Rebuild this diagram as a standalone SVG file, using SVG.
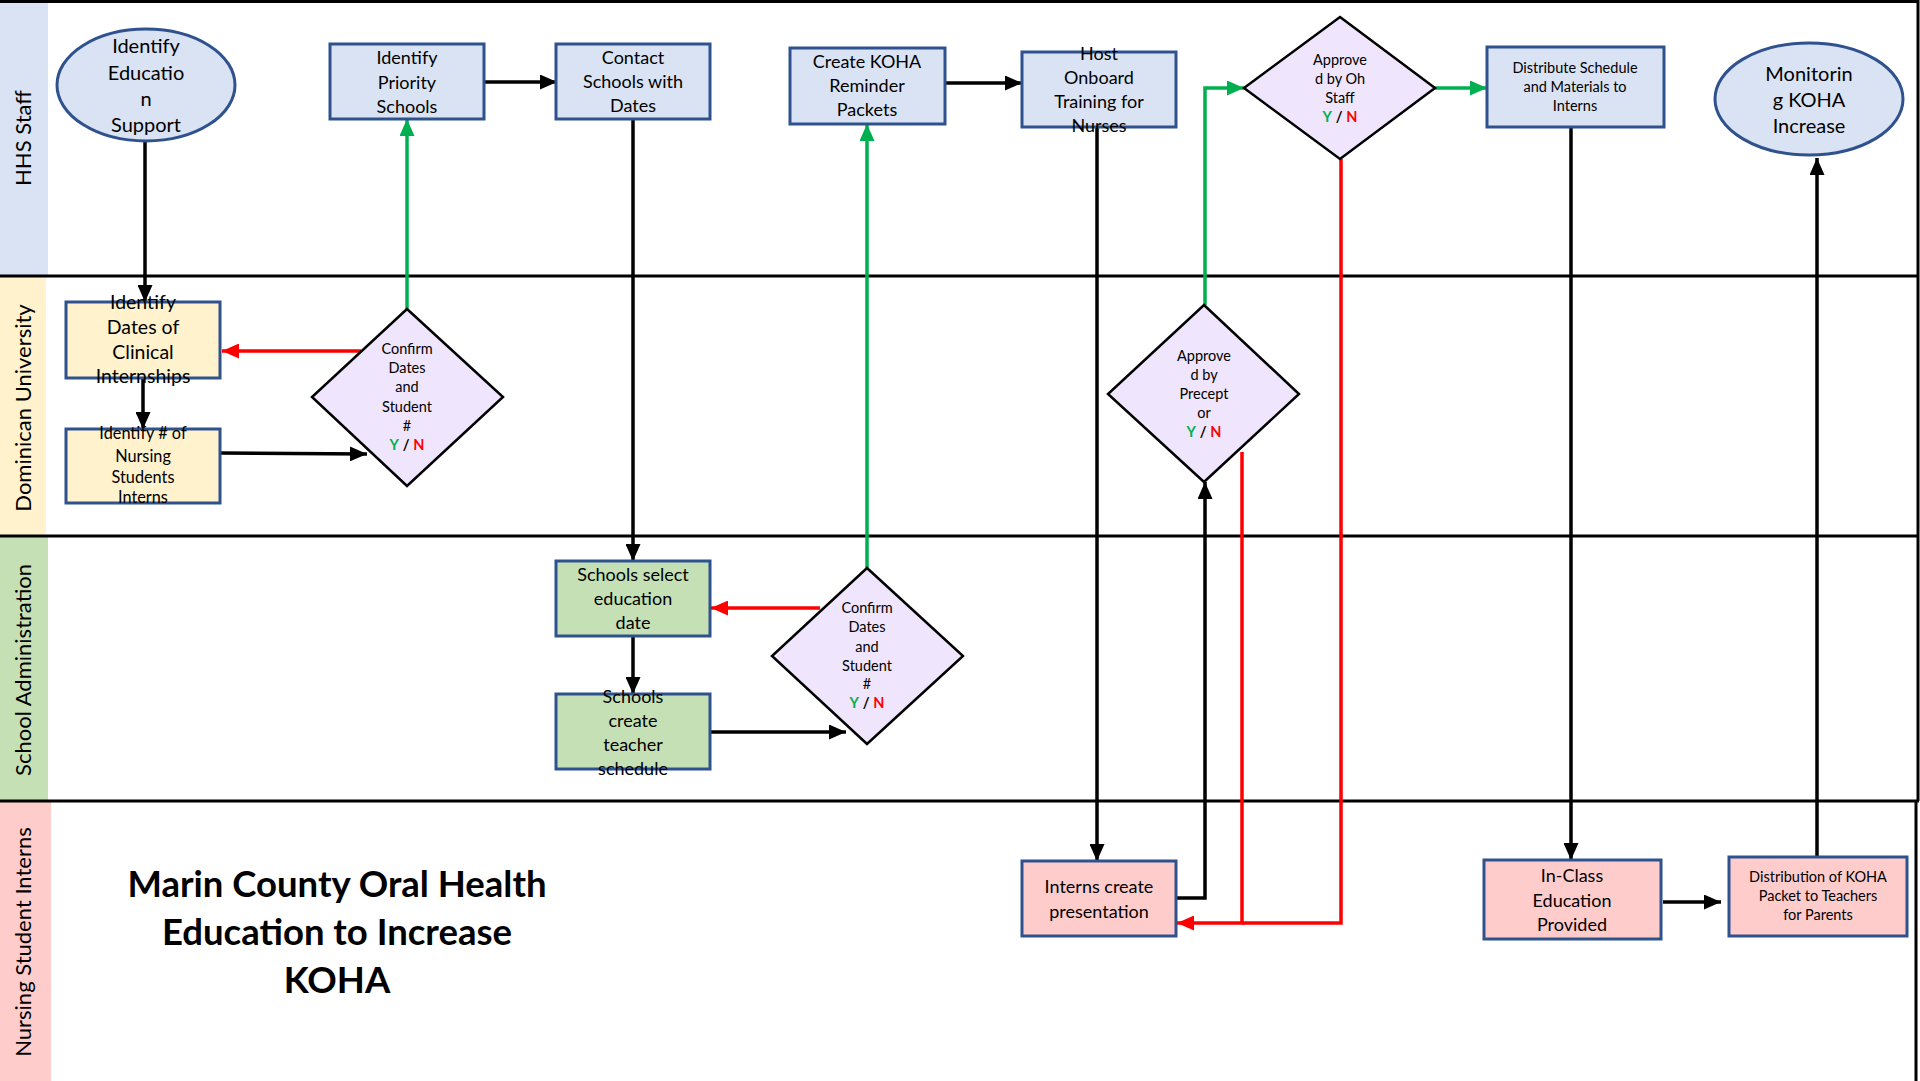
<svg xmlns="http://www.w3.org/2000/svg" width="1920" height="1081" viewBox="0 0 1920 1081">
<defs>
<style>
text{font-family:Lato,"Liberation Sans",sans-serif;fill:#000;text-anchor:middle}
.lane{font-size:22px}
.n{stroke:#2F528F;stroke-width:3}
.blue{fill:#DAE3F3}.yel{fill:#FFF2CC}.grn{fill:#C5E0B4}.pink{fill:#FFCCCC}
.dia{fill:#EFE5FD;stroke:#000;stroke-width:2.5}
.t18{font-size:18px}.t20{font-size:20px}.t14{font-size:14.5px}.t16{font-size:16.3px}.t19{font-size:19.5px}
.y{fill:#00B050;font-weight:bold}.r{fill:#FF0000;font-weight:bold}.sl{font-weight:bold}
.ck{fill:none;stroke:#000;stroke-width:3.5}
.cg{fill:none;stroke:#00B050;stroke-width:3.5}
.cr{fill:none;stroke:#FF0000;stroke-width:3.5}
.title{font-size:36.5px;font-weight:bold}
</style>
<marker id="ak" markerUnits="userSpaceOnUse" markerWidth="17" markerHeight="15" refX="17" refY="7.5" orient="auto"><path d="M0,0 L17,7.5 L0,15 z" fill="#000"/></marker>
<marker id="ag" markerUnits="userSpaceOnUse" markerWidth="17" markerHeight="15" refX="17" refY="7.5" orient="auto"><path d="M0,0 L17,7.5 L0,15 z" fill="#00B050"/></marker>
<marker id="ar" markerUnits="userSpaceOnUse" markerWidth="17" markerHeight="15" refX="17" refY="7.5" orient="auto"><path d="M0,0 L17,7.5 L0,15 z" fill="#FF0000"/></marker>
</defs>
<rect x="0" y="0" width="1920" height="1081" fill="#fff"/>
<g id="lanes">
<rect x="0" y="2" width="48" height="274" fill="#DAE3F3"/>
<rect x="0" y="276" width="46" height="260" fill="#FFF2CC"/>
<rect x="0" y="536" width="48" height="265" fill="#C5E0B4"/>
<rect x="0" y="801" width="51" height="280" fill="#FFCCCC"/>
<g stroke="#000" stroke-width="3" fill="none">
<line x1="0" y1="1.5" x2="1919" y2="1.5"/>
<line x1="1918" y1="0" x2="1918" y2="801"/>
<line x1="1916" y1="801" x2="1916" y2="1081"/>
<line x1="0" y1="276" x2="1919" y2="276"/>
<line x1="0" y1="536" x2="1919" y2="536"/>
<line x1="0" y1="801" x2="1919" y2="801"/>
</g>
<text class="lane" transform="translate(31,138) rotate(-90)">HHS Staff</text>
<text class="lane" transform="translate(31,408) rotate(-90)">Dominican University</text>
<text class="lane" transform="translate(31,670) rotate(-90)">School Administration</text>
<text class="lane" transform="translate(31,942) rotate(-90)">Nursing Student Interns</text>
</g>
<g id="connectors">
<path class="ck" d="M145,141 V302" marker-end="url(#ak)"/>
<path class="ck" d="M143,378 V429" marker-end="url(#ak)"/>
<path class="ck" d="M220,453 L367,454" marker-end="url(#ak)"/>
<path class="ck" d="M484,82 H557" marker-end="url(#ak)"/>
<path class="ck" d="M633,119 V561" marker-end="url(#ak)"/>
<path class="ck" d="M633,636 V694" marker-end="url(#ak)"/>
<path class="ck" d="M710,732 H846" marker-end="url(#ak)"/>
<path class="ck" d="M945,83 H1022" marker-end="url(#ak)"/>
<path class="ck" d="M1097,127 V861" marker-end="url(#ak)"/>
<path class="ck" d="M1176,898 H1205 V482" marker-end="url(#ak)"/>
<path class="ck" d="M1571,127 V860" marker-end="url(#ak)"/>
<path class="ck" d="M1663,902 H1721" marker-end="url(#ak)"/>
<path class="ck" d="M1817,857 V158" marker-end="url(#ak)"/>
<path class="cg" d="M407,309 V119" marker-end="url(#ag)"/>
<path class="cg" d="M867,568 V124" marker-end="url(#ag)"/>
<path class="cg" d="M1205,305 V88 H1244" marker-end="url(#ag)"/>
<path class="cg" d="M1435,88 H1487" marker-end="url(#ag)"/>
<path class="cr" d="M361,351 H222" marker-end="url(#ar)"/>
<path class="cr" d="M820,608 H711" marker-end="url(#ar)"/>
<path class="cr" d="M1341,159 V923 H1242"/>
<path class="cr" d="M1242,452 V923 H1177" marker-end="url(#ar)"/>
</g>
<g id="n-identify-education">
<ellipse cx="146" cy="85" rx="89" ry="56" class="n blue"/>
<text class="t20"><tspan x="146" y="53">Identify</tspan><tspan x="146" y="80">Educatio</tspan><tspan x="146" y="106">n</tspan><tspan x="146" y="132">Support</tspan></text>
</g>
<g id="n-identify-priority">
<rect x="330" y="44" width="154" height="75" class="n blue"/>
<text class="t18"><tspan x="407" y="64">Identify</tspan><tspan x="407" y="89">Priority</tspan><tspan x="407" y="113">Schools</tspan></text>
</g>
<g id="n-contact">
<rect x="556" y="44" width="154" height="75" class="n blue"/>
<text class="t18"><tspan x="633" y="64">Contact</tspan><tspan x="633" y="88">Schools with</tspan><tspan x="633" y="112">Dates</tspan></text>
</g>
<g id="n-create-koha">
<rect x="790" y="48" width="155" height="76" class="n blue"/>
<text class="t18"><tspan x="867" y="68">Create KOHA</tspan><tspan x="867" y="92">Reminder</tspan><tspan x="867" y="116">Packets</tspan></text>
</g>
<g id="n-host">
<rect x="1022" y="52" width="154" height="75" class="n blue"/>
<text class="t18"><tspan x="1099" y="60">Host</tspan><tspan x="1099" y="84">Onboard</tspan><tspan x="1099" y="108">Training for</tspan><tspan x="1099" y="132">Nurses</tspan></text>
</g>
<g id="n-approved-oh">
<polygon points="1340,17 1435,88 1340,159 1244,88" class="dia"/>
<text class="t14"><tspan x="1340" y="65">Approve</tspan><tspan x="1340" y="84">d by Oh</tspan><tspan x="1340" y="103">Staff</tspan><tspan x="1340" y="122"><tspan class="y">Y</tspan> <tspan class="sl">/</tspan> <tspan class="r">N</tspan></tspan></text>
</g>
<g id="n-distribute">
<rect x="1487" y="47" width="177" height="80" class="n blue"/>
<text class="t14"><tspan x="1575" y="73">Distribute Schedule</tspan><tspan x="1575" y="92">and Materials to</tspan><tspan x="1575" y="111">Interns</tspan></text>
</g>
<g id="n-monitoring">
<ellipse cx="1809" cy="99" rx="94" ry="56" class="n blue"/>
<text class="t20"><tspan x="1809" y="81">Monitorin</tspan><tspan x="1809" y="107">g KOHA</tspan><tspan x="1809" y="133">Increase</tspan></text>
</g>
<g id="n-identify-dates">
<rect x="66" y="302" width="154" height="76" class="n yel"/>
<text class="t19"><tspan x="143" y="309">Identify</tspan><tspan x="143" y="334">Dates of</tspan><tspan x="143" y="359">Clinical</tspan><tspan x="143" y="383">Internships</tspan></text>
</g>
<g id="n-identify-number">
<rect x="66" y="429" width="154" height="74" class="n yel"/>
<text class="t16"><tspan x="143" y="439">Identify # of</tspan><tspan x="143" y="462">Nursing</tspan><tspan x="143" y="483">Students</tspan><tspan x="143" y="503">Interns</tspan></text>
</g>
<g id="n-confirm-du">
<polygon points="407,309 503,397 407,486 312,397" class="dia"/>
<text class="t14"><tspan x="407" y="354">Confirm</tspan><tspan x="407" y="373">Dates</tspan><tspan x="407" y="392">and</tspan><tspan x="407" y="412">Student</tspan><tspan x="407" y="431">#</tspan><tspan x="407" y="450"><tspan class="y">Y</tspan> <tspan class="sl">/</tspan> <tspan class="r">N</tspan></tspan></text>
</g>
<g id="n-approved-preceptor">
<polygon points="1204,305 1299,394 1204,482 1108,394" class="dia"/>
<text class="t14"><tspan x="1204" y="361">Approve</tspan><tspan x="1204" y="380">d by</tspan><tspan x="1204" y="399">Precept</tspan><tspan x="1204" y="418">or</tspan><tspan x="1204" y="437"><tspan class="y">Y</tspan> <tspan class="sl">/</tspan> <tspan class="r">N</tspan></tspan></text>
</g>
<g id="n-schools-select">
<rect x="556" y="561" width="154" height="75" class="n grn"/>
<text class="t18"><tspan x="633" y="581">Schools select</tspan><tspan x="633" y="605">education</tspan><tspan x="633" y="629">date</tspan></text>
</g>
<g id="n-schools-create">
<rect x="556" y="694" width="154" height="75" class="n grn"/>
<text class="t18"><tspan x="633" y="703">Schools</tspan><tspan x="633" y="727">create</tspan><tspan x="633" y="751">teacher</tspan><tspan x="633" y="775">schedule</tspan></text>
</g>
<g id="n-confirm-sa">
<polygon points="867,568 963,656 867,744 772,656" class="dia"/>
<text class="t14"><tspan x="867" y="613">Confirm</tspan><tspan x="867" y="632">Dates</tspan><tspan x="867" y="652">and</tspan><tspan x="867" y="671">Student</tspan><tspan x="867" y="689">#</tspan><tspan x="867" y="708"><tspan class="y">Y</tspan> <tspan class="sl">/</tspan> <tspan class="r">N</tspan></tspan></text>
</g>
<g id="n-interns-create">
<rect x="1022" y="861" width="154" height="75" class="n pink"/>
<text class="t18"><tspan x="1099" y="893">Interns create</tspan><tspan x="1099" y="918">presentation</tspan></text>
</g>
<g id="n-inclass">
<rect x="1484" y="860" width="177" height="79" class="n pink"/>
<text class="t18"><tspan x="1572" y="882">In-Class</tspan><tspan x="1572" y="907">Education</tspan><tspan x="1572" y="931">Provided</tspan></text>
</g>
<g id="n-distribution">
<rect x="1729" y="857" width="178" height="79" class="n pink"/>
<text class="t14"><tspan x="1818" y="882">Distribution of KOHA</tspan><tspan x="1818" y="901">Packet to Teachers</tspan><tspan x="1818" y="920">for Parents</tspan></text>
</g>
<g id="title">
<text class="title"><tspan x="337" y="897">Marin County Oral Health</tspan><tspan x="337" y="945">Education to Increase</tspan><tspan x="337" y="993">KOHA</tspan></text>
</g>
</svg>
